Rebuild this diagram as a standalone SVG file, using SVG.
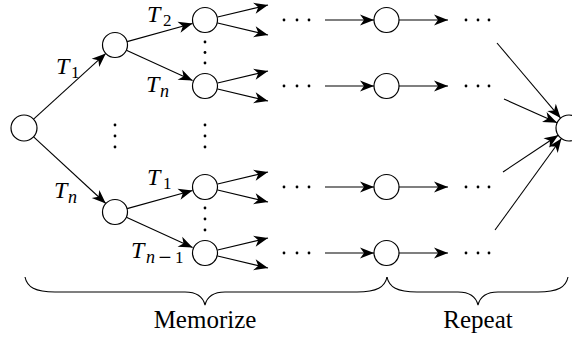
<svg xmlns="http://www.w3.org/2000/svg" width="572" height="339" viewBox="0 0 572 339">
<style>
.node circle{fill:#fff;stroke:#000;stroke-width:1.2}
.conn path{fill:none;stroke:#000;stroke-width:1.1;marker-end:url(#ah)}
.brace{fill:none;stroke:#000;stroke-width:1.1}
.dots circle{fill:#000}
</style>
<defs>
<marker id="ah" viewBox="-15 -7 16 14" refX="0" refY="0" markerWidth="16" markerHeight="14" markerUnits="userSpaceOnUse" orient="auto">
<path d="M0,0 L-14,-5.6 L-10,0 L-14,5.6 Z" fill="#000"/>
</marker>
</defs>
<rect width="572" height="339" fill="#fff"/>

<g id="connectors" class="conn">
<path d="M33.6,119.2 L105.8,53.4"/>
<path d="M33.6,136.8 L105.8,203.5"/>
<path d="M127.1,41.6 L192.5,23.5"/>
<path d="M126.4,50.2 L192.6,80.6"/>
<path d="M127.1,208.6 L192.5,190.5"/>
<path d="M126.4,217.2 L192.6,247.6"/>
<path d="M217.6,17 L268,5"/>
<path d="M217.6,23 L268,35"/>
<path d="M217.6,83 L268,71"/>
<path d="M217.6,89 L268,101"/>
<path d="M217.6,184 L268,172"/>
<path d="M217.6,190 L268,202"/>
<path d="M217.6,250 L268,238"/>
<path d="M217.6,256 L268,268"/>
<path d="M325,20 L374,20"/>
<path d="M399,20 L448,20"/>
<path d="M325,86 L374,86"/>
<path d="M399,86 L448,86"/>
<path d="M325,187 L374,187"/>
<path d="M399,187 L448,187"/>
<path d="M325,253 L374,253"/>
<path d="M399,253 L448,253"/>
<path d="M497,43 L560.6,118.1"/>
<path d="M504,99 L557.1,122.7"/>
<path d="M503,172 L558.2,135.2"/>
<path d="M495,230 L561.4,138.5"/>
</g>

<g id="edge-labels" font-family="Liberation Serif, DejaVu Serif, serif" font-style="italic" font-size="24" fill="#000">
<text x="56" y="74">T<tspan font-size="17" font-style="normal" x="71" y="78">1</tspan></text>
<text x="147" y="21.5">T<tspan font-size="17" font-style="normal" x="163" y="26">2</tspan></text>
<text x="146" y="92">T<tspan font-size="18" x="160" y="97">n</tspan></text>
<text x="54" y="198">T<tspan font-size="18" x="68" y="203">n</tspan></text>
<text x="147" y="185">T<tspan font-size="17" font-style="normal" x="163" y="189">1</tspan></text>
<text x="131" y="258">T<tspan font-size="18" x="146" y="263">n</tspan><tspan font-size="23" font-style="normal" x="158.5" y="264.5">−</tspan><tspan font-size="17" font-style="normal" x="175" y="263">1</tspan></text>
</g>

<g id="n-root" class="node"><circle cx="24" cy="128" r="13"/></g>
<g id="n-a" class="node"><circle cx="115" cy="45" r="12.5"/></g>
<g id="n-b" class="node"><circle cx="115" cy="212" r="12.5"/></g>
<g id="n-a1" class="node"><circle cx="205" cy="20" r="12.5"/></g>
<g id="n-an" class="node"><circle cx="205" cy="86" r="12.5"/></g>
<g id="n-b1" class="node"><circle cx="205" cy="187" r="12.5"/></g>
<g id="n-bn" class="node"><circle cx="205" cy="253" r="12.5"/></g>
<g id="n-r1" class="node"><circle cx="386.5" cy="20" r="12.5"/></g>
<g id="n-r2" class="node"><circle cx="386.5" cy="86" r="12.5"/></g>
<g id="n-r3" class="node"><circle cx="386.5" cy="187" r="12.5"/></g>
<g id="n-r4" class="node"><circle cx="386.5" cy="253" r="12.5"/></g>
<g id="n-final" class="node"><circle cx="569" cy="128" r="13"/></g>

<g id="ellipses" class="dots">
<circle cx="115" cy="125" r="1.4"/><circle cx="115" cy="136" r="1.4"/><circle cx="115" cy="147" r="1.4"/>
<circle cx="205" cy="125" r="1.4"/><circle cx="205" cy="136" r="1.4"/><circle cx="205" cy="147" r="1.4"/>
<circle cx="205" cy="42" r="1.4"/><circle cx="205" cy="52.5" r="1.4"/><circle cx="205" cy="63" r="1.4"/>
<circle cx="205" cy="208" r="1.4"/><circle cx="205" cy="219" r="1.4"/><circle cx="205" cy="230" r="1.4"/>
<circle cx="284" cy="20" r="1.4"/><circle cx="297" cy="20" r="1.4"/><circle cx="309" cy="20" r="1.4"/>
<circle cx="284" cy="86" r="1.4"/><circle cx="297" cy="86" r="1.4"/><circle cx="309" cy="86" r="1.4"/>
<circle cx="284" cy="187" r="1.4"/><circle cx="297" cy="187" r="1.4"/><circle cx="309" cy="187" r="1.4"/>
<circle cx="284" cy="253" r="1.4"/><circle cx="297" cy="253" r="1.4"/><circle cx="309" cy="253" r="1.4"/>
<circle cx="466" cy="20" r="1.4"/><circle cx="478" cy="20" r="1.4"/><circle cx="489" cy="20" r="1.4"/>
<circle cx="466" cy="86" r="1.4"/><circle cx="478" cy="86" r="1.4"/><circle cx="489" cy="86" r="1.4"/>
<circle cx="466" cy="187" r="1.4"/><circle cx="478" cy="187" r="1.4"/><circle cx="489" cy="187" r="1.4"/>
<circle cx="466" cy="253" r="1.4"/><circle cx="478" cy="253" r="1.4"/><circle cx="489" cy="253" r="1.4"/>
</g>

<g id="brace-memorize">
<path class="brace" d="M25,277 C27,287 35,292 55,292 L185,292 C197,292 203,297 205,305 C207,297 213,292 225,292 L357,292 C377,292 385,287 387,277"/>
<text x="205" y="328" font-family="Liberation Serif, DejaVu Serif, serif" font-size="25" text-anchor="middle" fill="#000">Memorize</text>
</g>
<g id="brace-repeat">
<path class="brace" d="M387,277 C389,287 397,292 417,292 L458,292 C470,292 476,297 478,305 C480,297 486,292 498,292 L538,292 C558,292 566,287 568,277"/>
<text x="478" y="328" font-family="Liberation Serif, DejaVu Serif, serif" font-size="25" text-anchor="middle" fill="#000">Repeat</text>
</g>
</svg>
